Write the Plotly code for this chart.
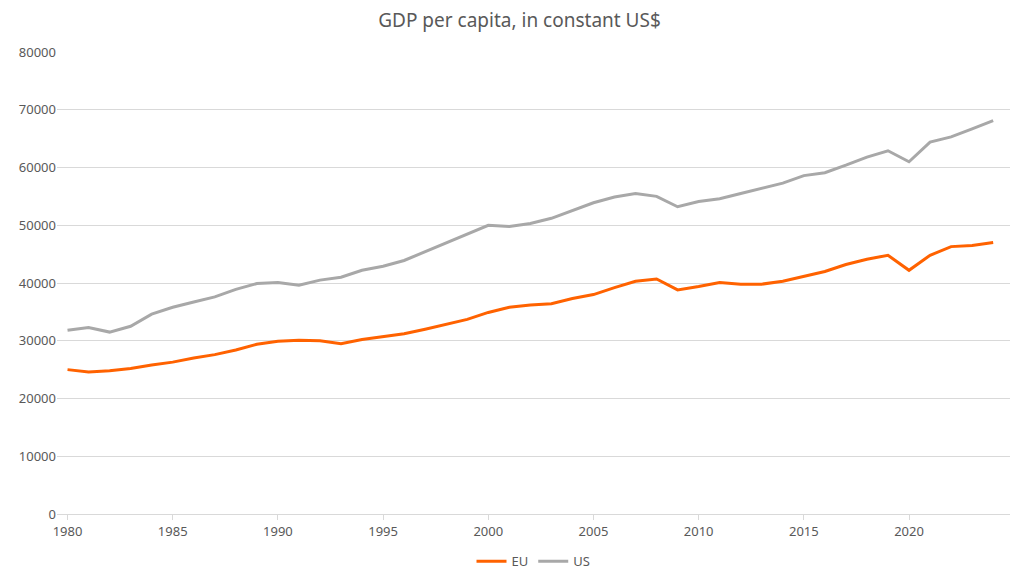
import plotly.graph_objects as go

years = list(range(1980, 2025))
us = [31800, 32300, 31500, 32500, 34600, 35800, 36700, 37600, 38900, 39900,
      40100, 39600, 40500, 41000, 42200, 42900, 43900, 45400, 46900, 48400,
      50000, 49800, 50300, 51200, 52600, 53900, 54900, 55500, 55000, 53200,
      54100, 54600, 55500, 56400, 57300, 58600, 59100, 60400, 61800, 62900,
      61000, 64400, 65300, 66700, 68100]
eu = [25000, 24600, 24800, 25200, 25800, 26300, 27000, 27600, 28400, 29400,
      29900, 30100, 30000, 29500, 30200, 30700, 31200, 32000, 32800, 33700,
      34900, 35800, 36200, 36400, 37300, 38000, 39200, 40300, 40700, 38800,
      39400, 40100, 39800, 39800, 40300, 41100, 42000, 43200, 44100, 44800,
      42200, 44800, 46300, 46500, 47000]

fig = go.Figure()
fig.add_trace(go.Scatter(x=years, y=eu, name="EU", mode="lines",
                         line=dict(color="#FF6200", width=3)))
fig.add_trace(go.Scatter(x=years, y=us, name="US", mode="lines",
                         line=dict(color="#A8A8A8", width=3)))

fig.update_layout(
    width=1023, height=580,
    paper_bgcolor="white", plot_bgcolor="white",
    font=dict(family="Noto Sans", color="#595959", size=13),
    title=dict(text="GDP per capita, in constant US$", x=0.5, y=0.99, yanchor="top",
               font=dict(size=19, color="#595959")),
    margin=dict(l=49, r=21, t=44, b=65),
    showlegend=True,
    legend=dict(orientation="h", x=0.5, xanchor="center", y=-0.07, yanchor="top",
                font=dict(size=13)),
    xaxis=dict(range=[1979.5, 2024.8], tickmode="linear", tick0=1980, dtick=5,
               showgrid=False, showline=True, linecolor="#D9D9D9",
               ticks="outside", tickcolor="#D9D9D9", ticklen=5),
    yaxis=dict(range=[0, 80000], dtick=10000, showgrid=True, gridcolor="#D9D9D9",
               zeroline=False, tickformat="d"),
)

fig.write_html("out.html")
